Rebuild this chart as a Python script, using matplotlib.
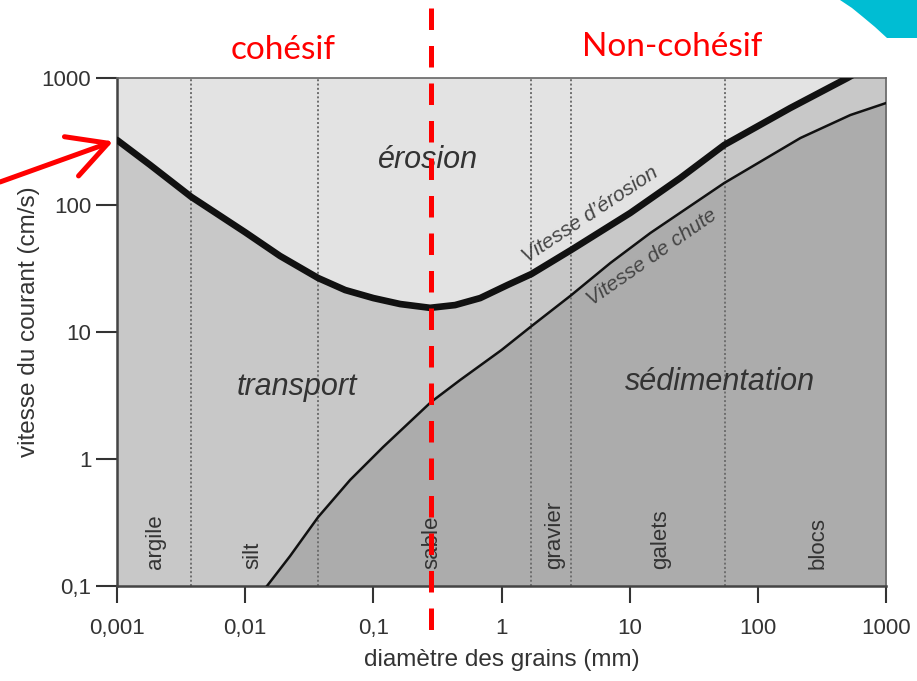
import numpy as np
import matplotlib
matplotlib.use("Agg")
import matplotlib.pyplot as plt
from matplotlib.patches import Polygon

plt.rcParams["font.family"] = ["Liberation Sans", "DejaVu Sans"]

# ─── DATA ─────────────────────────────────────────────────────────────────────
# Erosion threshold velocity (cm/s) vs grain diameter (mm)
ero_d = [0.001, 0.00181, 0.00379, 0.01, 0.0187, 0.0371, 0.0603, 0.1, 0.162, 0.277,
         0.435, 0.682, 1.11, 1.71, 3.5, 10.1, 24.8, 54.7, 179, 500, 1000]
ero_v = [325, 207, 116, 61, 39.7, 26.6, 21.4, 18.5, 16.6, 15.5,
         16.3, 18.5, 23.4, 28.6, 44.3, 86.5, 163, 297, 580, 1000, 1490]

# Settling (fall) velocity (cm/s) vs grain diameter (mm)
fall_d = [0.0148, 0.0224, 0.0371, 0.0659, 0.119, 0.282, 0.476, 1.0, 1.71,
          3.5, 7.06, 14.5, 54.7, 215, 527, 1000]
fall_v = [0.1, 0.172, 0.349, 0.684, 1.24, 2.81, 4.19, 7.21, 11.1,
          19.5, 34.9, 60.2, 149, 337, 511, 635]

# Grain class limits (mm) and class names with label positions
class_limits = [0.0038, 0.037, 1.7, 3.5, 55]
class_names = ["argile", "silt", "sable", "gravier", "galets", "blocs"]
class_pos = [0.00198, 0.0115, 0.288, 2.62, 17.3, 297]

# Cohesive / non-cohesive boundary (mm)
cohesion_limit = 0.28

x_ticks = [0.001, 0.01, 0.1, 1, 10, 100, 1000]
x_ticklabels = ["0,001", "0,01", "0,1", "1", "10", "100", "1000"]
y_ticks = [0.1, 1, 10, 100, 1000]
y_ticklabels = ["0,1", "1", "10", "100", "1000"]

# ─── STYLE ────────────────────────────────────────────────────────────────────
C_TOP = "#e3e3e3"
C_MID = "#c8c8c8"
C_LOW = "#acacac"
C_TEXT = "#333333"
W, H = 917, 681

fig = plt.figure(figsize=(W / 100, H / 100), dpi=100)
ax = fig.add_axes([117 / W, 1 - 586 / H, 769 / W, 508 / H])
ax.set_xscale("log")
ax.set_yscale("log")
ax.set_xlim(0.001, 1000)
ax.set_ylim(0.1, 1000)
ax.set_facecolor(C_TOP)

# zones
ax.fill_between(ero_d, ero_v, 0.1, color=C_MID, lw=0, zorder=1)
ax.fill_between(fall_d, fall_v, 0.1, color=C_LOW, lw=0, zorder=1.5)

for lim in class_limits:
    ax.axvline(lim, color="#6e6e6e", lw=1.4, ls=(0, (1, 1.2)), zorder=2)

ax.plot(ero_d, ero_v, color="#111111", lw=4.8, solid_capstyle="round",
        solid_joinstyle="round", zorder=3)
ax.plot(fall_d, fall_v, color="#111111", lw=1.8, solid_joinstyle="round", zorder=3)

# zone labels
ax.text(0.268, 195, "érosion", style="italic", fontsize=22, color=C_TEXT,
        ha="center", va="baseline", zorder=4)
ax.text(0.0254, 3.19, "transport", style="italic", fontsize=22, color=C_TEXT,
        ha="center", va="baseline", zorder=4)
ax.text(51, 3.49, "sédimentation", style="italic", fontsize=22, color=C_TEXT,
        ha="center", va="baseline", zorder=4)

ax.text(4.92, 84, "Vitesse d’érosion", style="italic", fontsize=15, color="#444444",
        ha="center", va="center", rotation=33.5, rotation_mode="anchor", zorder=4)
ax.text(14.8, 39.0, "Vitesse de chute", style="italic", fontsize=15, color="#444444",
        ha="center", va="center", rotation=35, rotation_mode="anchor", zorder=4)

for name, xpos in zip(class_names, class_pos):
    ax.text(xpos, 0.136, name, rotation=90, fontsize=16, color=C_TEXT,
            ha="center", va="bottom", zorder=4)

# axes
ax.set_xticks(x_ticks)
ax.set_xticklabels(x_ticklabels)
ax.set_yticks(y_ticks)
ax.set_yticklabels(y_ticklabels)
ax.minorticks_off()
ax.tick_params(axis="x", length=12, width=1.5, pad=11, labelsize=16,
               color="#333333", labelcolor=C_TEXT)
ax.tick_params(axis="y", length=15, width=1.5, pad=3.5, labelsize=16,
               color="#333333", labelcolor=C_TEXT)
for side in ["top", "right"]:
    ax.spines[side].set_color("#666666")
    ax.spines[side].set_linewidth(1.2)
for side in ["left", "bottom"]:
    ax.spines[side].set_color("#444444")
    ax.spines[side].set_linewidth(1.8)

ax.set_xlabel("diamètre des grains (mm)", fontsize=17.5, color=C_TEXT)
ax.set_ylabel("vitesse du courant (cm/s)", fontsize=17.5, color=C_TEXT)
ax.xaxis.set_label_coords(0.5, -0.124)
ax.yaxis.set_label_coords(-0.100, 0.52)

# cohesive / non-cohesive divide
ax.plot([cohesion_limit, cohesion_limit], [1.138, -0.087], color="red", lw=3.6,
        ls=(0, (4.3, 3.2)), transform=ax.get_xaxis_transform(), clip_on=False, zorder=5)

fig.text(283 / W, 1 - 59 / H, "cohésif", color="red", fontsize=24,
         family=["Lato", "DejaVu Sans"], ha="center", va="baseline")
fig.text(672 / W, 1 - 56 / H, "Non-cohésif", color="red", fontsize=24,
         family=["Lato", "DejaVu Sans"], ha="center", va="baseline")

# arrow pointing at the start of the erosion curve
ax.annotate("", xy=(ero_d[0], ero_v[0]), xycoords="data",
            xytext=(0, 1 - 182 / H), textcoords="figure fraction",
            arrowprops=dict(arrowstyle="->,head_length=1.4,head_width=0.75",
                            color="red", lw=3.6, shrinkA=0, shrinkB=3,
                            mutation_scale=20),
            annotation_clip=False, zorder=6)

# slide decoration, top-right corner
corner = [(840, 0), (852, 8), (863, 17), (875, 27), (887, 38), (917, 38), (917, 0)]
fig.patches.append(Polygon([(px / W, 1 - py / H) for px, py in corner], closed=True,
                           transform=fig.transFigure, color="#00bdd3", lw=0))

fig.savefig("out.png", dpi=100)
